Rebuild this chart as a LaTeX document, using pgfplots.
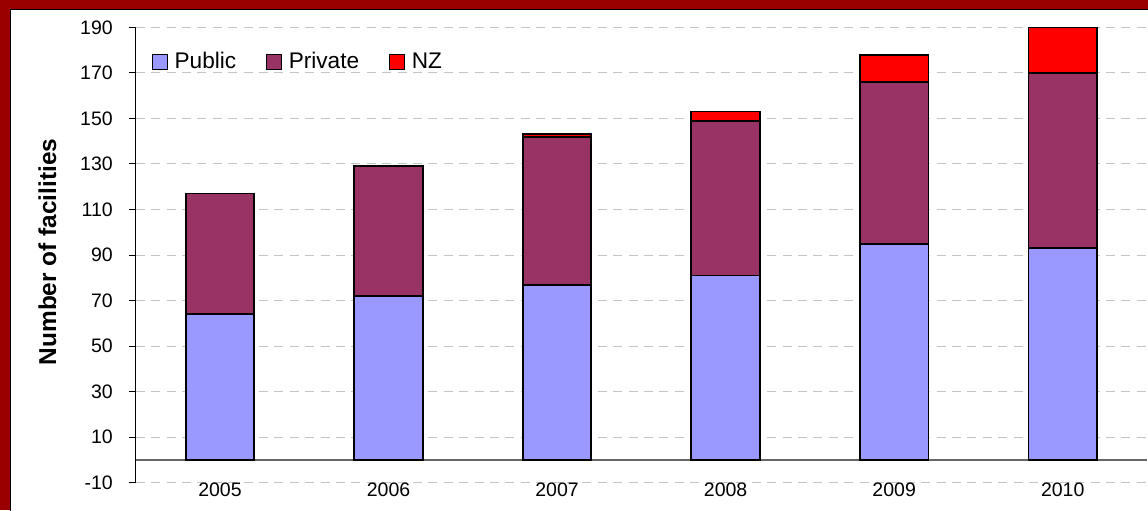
\documentclass[border=0pt]{standalone}
\usepackage{pgfplots}
\pgfplotsset{compat=1.18}
\usepackage{fontspec}
\setmainfont{Liberation Sans}
\definecolor{pub}{HTML}{9999FF}
\definecolor{priv}{HTML}{993366}
\definecolor{nz}{HTML}{FF0000}
\definecolor{frame}{HTML}{990000}
\definecolor{gridc}{HTML}{C4C4C4}
\begin{document}
\begin{tikzpicture}
\path[use as bounding box, clip] (0,0) rectangle (574pt,255pt);
\fill[frame] (0,0) rectangle (574pt,255pt);
\filldraw[fill=white, draw=black, line width=0.5pt] (5.3pt,-10pt) rectangle (600pt,250.35pt);
\begin{axis}[
  at={(67.85pt,13.65pt)}, anchor=south west,
  scale only axis, width=505.65pt, height=227.7pt,
  ybar stacked, bar width=34.3pt,
  xmin=-0.5, xmax=5.5, ymin=-10, ymax=190,
  xtick={0,...,5}, xticklabels={2005,2006,2007,2008,2009,2010},
  ytick={-10,10,...,190},
  yticklabels={-10,10,30,50,70,90,110,130,150,170,190},
  axis x line*=bottom,
  x axis line style={draw=none},
  axis y line*=left,
  y axis line style={black, line width=0.5pt, -},
  ytick style={black, line width=0.5pt},
  tick align=outside, major tick length=3.5pt,
  x tick style={draw=none},
  ymajorgrids,
  major grid style={gridc, line width=0.5pt, dash pattern=on 4.5pt off 3.2pt},
  tick label style={font=\fontsize{9.75pt}{11pt}\selectfont, inner sep=0pt},
  yticklabel style={anchor=east, xshift=-7.8pt},
  xticklabel style={anchor=north, yshift=3.4pt},
  ylabel={Number of facilities},
  ylabel style={font=\fontsize{12.2pt}{14pt}\selectfont\bfseries, at={(axis description cs:-0.0781,0.5066)}, anchor=south, inner sep=0pt, rotate=0},
  legend style={at={(0.0158,0.924)}, anchor=west, draw=none, fill=none, inner sep=0pt,
    font=\fontsize{11.3pt}{13pt}\selectfont,
    /tikz/every odd column/.append style={column sep=1.2pt},
    /tikz/every even column/.append style={column sep=13pt}},
  legend columns=3,
  legend image code/.code={\draw[#1, draw=black, line width=0.6pt] (0pt,-3.75pt) rectangle (7.5pt,3.75pt);},
  every axis plot/.append style={draw=black, line width=0.9pt},
]
\addplot[fill=pub] coordinates {(0,64) (1,72) (2,77) (3,81) (4,95) (5,93)};
\addplot[fill=priv] coordinates {(0,53) (1,57) (2,65) (3,68) (4,71) (5,77)};
\addplot[fill=nz] coordinates {(0,0) (1,0) (2,1) (3,4) (4,12) (5,20)};
\legend{Public,Private,NZ}
\draw[black!60, line width=0.6pt] (axis cs:-0.5,0) -- (axis cs:5.5,0);
\end{axis}
\end{tikzpicture}
\end{document}
